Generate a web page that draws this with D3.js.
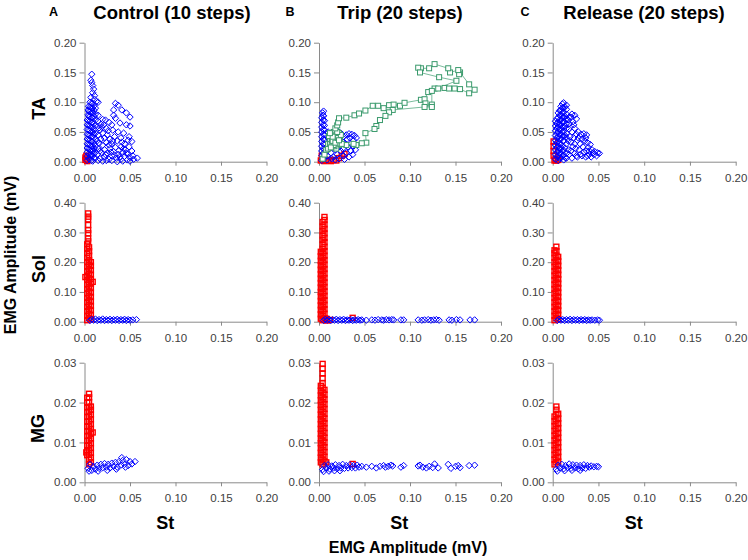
<!DOCTYPE html>
<html><head><meta charset="utf-8">
<script src="https://cdn.jsdelivr.net/npm/d3@7"></script>
<style>body{margin:0;background:#fff}svg{display:block}text{font-family:"Liberation Sans",Arial,sans-serif}</style>
</head><body><svg id="c" width="748" height="560"></svg>
<script>
// ---------- DATA ----------
const columnTitles = ["Control (10 steps)", "Trip (20 steps)", "Release (20 steps)"];
const columnLetters = ["A", "B", "C"];
const rowLabels = ["TA", "Sol", "MG"];
const xTicks = [0, 0.05, 0.10, 0.15, 0.20];
const yTicksTA = [0, 0.05, 0.10, 0.15, 0.20];
const yTicksSol = [0, 0.10, 0.20, 0.30, 0.40];
const yTicksMG = [0, 0.01, 0.02, 0.03];

// Control TA
const ctrlTA_blue = [[0.003,0.002],[0.003,0.009],[0.003,0.016],[0.003,0.023],[0.003,0.030],[0.003,0.038],[0.003,0.046],[0.003,0.054],[0.003,0.062],[0.003,0.070],[0.004,0.079],[0.004,0.087],
[0.0045,0.005],[0.0045,0.013],[0.0045,0.021],[0.0045,0.029],[0.0045,0.037],[0.0045,0.045],[0.0045,0.053],[0.0045,0.061],[0.0045,0.069],[0.0045,0.077],[0.0045,0.085],[0.0045,0.093],
[0.006,0.004],[0.006,0.012],[0.006,0.020],[0.006,0.028],[0.006,0.036],[0.006,0.044],[0.006,0.052],[0.006,0.060],[0.006,0.068],[0.006,0.076],[0.006,0.084],[0.006,0.092],[0.006,0.100],
[0.0075,0.002],[0.0075,0.010],[0.0075,0.018],[0.0075,0.026],[0.0075,0.034],[0.0075,0.042],[0.0075,0.050],[0.0075,0.058],[0.0075,0.066],[0.0075,0.074],[0.0075,0.082],[0.0075,0.090],[0.0075,0.098],
[0.009,0.001],[0.009,0.010],[0.009,0.018],[0.009,0.026],[0.009,0.034],[0.009,0.042],[0.009,0.050],[0.009,0.058],[0.009,0.066],[0.009,0.074],[0.009,0.082],[0.009,0.090],[0.009,0.098],
[0.0105,0.006],[0.0105,0.014],[0.0105,0.022],[0.0105,0.030],[0.0105,0.046],[0.0105,0.054],[0.0105,0.064],[0.0105,0.076],[0.0105,0.086],[0.0105,0.094],
[0.012,0.006],[0.012,0.016],[0.012,0.026],[0.012,0.038],[0.012,0.048],[0.012,0.060],[0.012,0.070],[0.012,0.080],[0.012,0.090],[0.013,0.101],
[0.008,0.147],[0.007,0.137],[0.008,0.133],[0.009,0.128],[0.010,0.122],[0.009,0.116],[0.011,0.111],[0.011,0.105],[0.007,0.108],[0.015,0.100],
[0.015,0.068],[0.018,0.063],[0.016,0.057],[0.020,0.071],[0.015,0.078],[0.019,0.058],[0.021,0.062],
[0.023,0.070],[0.027,0.066],[0.030,0.062],[0.034,0.098],[0.037,0.095],[0.032,0.087],[0.041,0.087],[0.046,0.082],[0.032,0.078],[0.034,0.073],[0.039,0.065],[0.050,0.075],[0.046,0.062],[0.050,0.060],[0.024,0.056],[0.017,0.053],[0.031,0.053],[0.037,0.050],[0.043,0.048],[0.049,0.042],[0.048,0.036],[0.052,0.034],
[0.015,0.045],[0.018,0.038],[0.020,0.048],[0.022,0.040],[0.025,0.045],[0.028,0.038],[0.024,0.032],[0.020,0.028],[0.016,0.031],[0.030,0.030],[0.033,0.042],[0.036,0.035],[0.040,0.040],[0.044,0.030],[0.040,0.025],[0.034,0.024],[0.028,0.022],[0.022,0.020],[0.015,0.022],[0.026,0.052],
[0.014,0.035],[0.017,0.018],[0.023,0.012],[0.029,0.016],[0.033,0.011],[0.039,0.008],[0.046,0.014],[0.041,0.033],[0.027,0.028],[0.031,0.035],[0.043,0.022],[0.049,0.025],[0.053,0.010],
[0.014,0.012],[0.017,0.005],[0.019,0.015],[0.022,0.008],[0.025,0.014],[0.027,0.004],[0.030,0.010],[0.032,0.017],[0.035,0.006],[0.037,0.012],[0.040,0.004],[0.042,0.016],[0.044,0.009],[0.047,0.003],[0.048,0.013],[0.050,0.007],[0.052,0.018],[0.054,0.004],[0.058,0.006],[0.045,0.020],[0.038,0.019],[0.024,0.002],[0.015,0.002],[0.030,0.002],[0.036,0.000],[0.042,0.001],[0.050,0.001],[0.020,0.001]];
const ctrlTA_red = [[0.001,0.003],[0.001,0.007],[0.002,0.010],[0.002,0.004],[0.003,0.001]];

// Trip TA
const tripTA_blue = [[0.003,0.002],[0.003,0.010],[0.003,0.018],[0.003,0.026],[0.003,0.034],[0.003,0.042],[0.003,0.050],[0.003,0.058],[0.003,0.066],[0.003,0.074],[0.004,0.082],
[0.0045,0.006],[0.0045,0.014],[0.0045,0.022],[0.0045,0.030],[0.0045,0.038],[0.0045,0.046],[0.0045,0.054],[0.0045,0.062],[0.0045,0.070],[0.0045,0.078],
[0.006,0.005],[0.006,0.013],[0.006,0.021],[0.006,0.029],[0.006,0.037],[0.006,0.045],[0.006,0.053],[0.006,0.061],[0.006,0.069],[0.005,0.077],[0.005,0.085],
[0.009,0.010],[0.009,0.025],[0.010,0.040],[0.010,0.050],[0.013,0.045],[0.016,0.050],[0.020,0.052],[0.024,0.048],[0.027,0.042],[0.030,0.045],[0.033,0.047],[0.036,0.046],[0.039,0.044],[0.041,0.040],[0.038,0.036],[0.035,0.030],[0.032,0.025],[0.035,0.018],[0.030,0.015],[0.027,0.010],[0.024,0.018],[0.020,0.012],[0.016,0.008],[0.013,0.015],[0.010,0.020],[0.012,0.030],[0.018,0.003],[0.022,0.005],[0.028,0.004],[0.033,0.008],[0.037,0.012],[0.040,0.020],[0.028,0.030],[0.025,0.035],[0.014,0.005],[0.009,0.003],[0.031,0.038],[0.022,0.025],[0.018,0.020],[0.026,0.022],[0.034,0.040],[0.038,0.026]];
const tripTA_red = [[0.002,0.002],[0.004,0.004],[0.006,0.001],[0.008,0.003],[0.010,0.002],[0.013,0.001],[0.016,0.003],[0.019,0.002],[0.022,0.006],[0.025,0.010],[0.028,0.013],[0.003,0.010]];
const tripTA_green = [[0.004,0.005],[0.006,0.012],[0.008,0.020],[0.010,0.022],[0.010,0.030],[0.012,0.030],[0.012,0.038],[0.014,0.028],[0.014,0.045],[0.017,0.036],[0.016,0.050],[0.019,0.045],[0.018,0.042],[0.022,0.048],[0.020,0.035],[0.023,0.040],[0.022,0.028],[0.020,0.030],[0.019,0.022],[0.017,0.026],[0.016,0.028],[0.013,0.024],[0.014,0.040],[0.015,0.035],[0.011,0.043],[0.018,0.032],[0.021,0.040],[0.024,0.045],[0.020,0.050],[0.018,0.056],[0.020,0.061],[0.021,0.066],[0.022,0.073],
[0.030,0.074],[0.039,0.078],[0.044,0.081],[0.051,0.086],[0.059,0.094],[0.065,0.094],[0.071,0.090],[0.077,0.095],[0.082,0.096],[0.089,0.094],[0.094,0.099],[0.112,0.104],[0.116,0.105],[0.120,0.117],
[0.127,0.123],[0.131,0.123],[0.138,0.124],[0.143,0.123],[0.149,0.123],[0.155,0.122],[0.165,0.115],[0.171,0.121],[0.165,0.130],[0.155,0.150],[0.154,0.147],[0.153,0.154],[0.144,0.150],[0.142,0.157],[0.127,0.164],[0.121,0.157],[0.112,0.157],[0.109,0.158],[0.111,0.150],[0.132,0.142],[0.151,0.136],[0.124,0.119],[0.124,0.096],[0.117,0.098],[0.124,0.092],[0.116,0.092],
[0.081,0.087],[0.077,0.083],[0.073,0.077],[0.067,0.070],[0.063,0.060],[0.061,0.055],[0.051,0.048],[0.052,0.032],[0.047,0.031],[0.041,0.028],[0.038,0.030],[0.030,0.028],[0.025,0.030],[0.022,0.036],[0.015,0.042],[0.012,0.048]];

// Release TA
const relTA_blue = [[0.003,0.004],[0.003,0.012],[0.003,0.020],[0.003,0.028],[0.003,0.036],[0.003,0.044],[0.003,0.052],[0.003,0.060],[0.003,0.068],
[0.0045,0.008],[0.0045,0.016],[0.0045,0.024],[0.0045,0.032],[0.0045,0.040],[0.0045,0.048],[0.0045,0.056],[0.0045,0.064],[0.0045,0.072],
[0.006,0.002],[0.006,0.010],[0.006,0.018],[0.006,0.026],[0.006,0.034],[0.006,0.042],[0.006,0.050],[0.006,0.058],[0.006,0.066],[0.006,0.074],[0.006,0.082],
[0.0075,0.006],[0.0075,0.014],[0.0075,0.022],[0.0075,0.030],[0.0075,0.038],[0.0075,0.046],[0.0075,0.054],[0.0075,0.062],[0.0075,0.070],[0.0075,0.078],[0.0075,0.086],
[0.009,0.006],[0.009,0.014],[0.009,0.022],[0.009,0.030],[0.009,0.038],[0.009,0.046],[0.009,0.054],[0.009,0.062],[0.009,0.070],[0.009,0.078],[0.009,0.086],[0.009,0.093],
[0.0105,0.010],[0.0105,0.018],[0.0105,0.026],[0.0105,0.042],[0.0105,0.050],[0.0105,0.058],[0.0105,0.066],[0.0105,0.074],[0.0105,0.082],[0.0105,0.090],[0.0105,0.097],
[0.012,0.003],[0.012,0.011],[0.012,0.019],[0.012,0.035],[0.012,0.043],[0.012,0.051],[0.012,0.059],[0.012,0.067],[0.012,0.075],[0.012,0.083],[0.012,0.091],[0.012,0.099],
[0.0135,0.007],[0.0135,0.023],[0.0135,0.044],[0.0135,0.060],[0.0135,0.076],[0.0135,0.092],
[0.015,0.006],[0.015,0.014],[0.015,0.030],[0.015,0.040],[0.015,0.048],[0.015,0.056],[0.015,0.064],[0.015,0.072],[0.015,0.080],[0.015,0.088],[0.015,0.095],
[0.018,0.075],[0.021,0.080],[0.024,0.078],[0.026,0.072],[0.022,0.067],[0.018,0.064],[0.020,0.075],[0.023,0.062],[0.017,0.070],
[0.018,0.055],[0.021,0.050],[0.024,0.056],[0.019,0.042],[0.023,0.040],[0.026,0.046],[0.020,0.033],[0.024,0.030],[0.027,0.036],[0.018,0.012],[0.021,0.006],[0.024,0.014],
[0.017,0.020],[0.017,0.035],[0.020,0.018],[0.022,0.025],[0.025,0.022],[0.026,0.010],[0.028,0.040],[0.032,0.010],[0.035,0.035],[0.038,0.010],[0.040,0.018],[0.044,0.015],
[0.028,0.050],[0.031,0.046],[0.034,0.047],[0.037,0.045],[0.036,0.040],[0.032,0.038],[0.030,0.030],[0.033,0.025],[0.029,0.020],[0.027,0.008],[0.030,0.012],[0.034,0.016],[0.036,0.008],
[0.038,0.032],[0.041,0.029],[0.039,0.024],[0.037,0.018],[0.040,0.012],
[0.043,0.020],[0.046,0.017],[0.049,0.015],[0.051,0.014],[0.045,0.012],[0.042,0.008],[0.048,0.010]];
const relTA_red = [[0.002,0.002],[0.004,0.002],[0.006,0.003],[0.003,0.005],[0.001,0.010],[0.001,0.018],[0.001,0.026],[0.001,0.034]];

// Sol
const ctrlSol_red = [[0.003,0.005],[0.003,0.020],[0.003,0.035],[0.003,0.050],[0.003,0.065],[0.003,0.080],[0.003,0.095],[0.003,0.110],[0.003,0.125],[0.003,0.140],[0.003,0.155],[0.003,0.170],[0.003,0.185],[0.003,0.200],[0.003,0.215],[0.003,0.230],[0.003,0.245],[0.003,0.260],
[0.005,0.012],[0.005,0.027],[0.005,0.042],[0.005,0.057],[0.005,0.072],[0.005,0.087],[0.005,0.102],[0.005,0.117],[0.005,0.132],[0.005,0.147],[0.005,0.162],[0.005,0.177],[0.005,0.192],[0.005,0.207],[0.005,0.222],[0.005,0.237],[0.005,0.250],
[0.007,0.008],[0.007,0.023],[0.007,0.038],[0.007,0.053],[0.007,0.068],[0.007,0.083],[0.007,0.098],[0.007,0.113],[0.007,0.128],[0.007,0.143],[0.007,0.158],[0.007,0.173],[0.007,0.188],[0.007,0.200],
[0.001,0.150],[0.009,0.134],[0.004,0.364],[0.004,0.353],[0.004,0.344],[0.004,0.325],[0.004,0.308],[0.004,0.297],[0.004,0.280],[0.004,0.270]];
const ctrlSol_blue = [[0.006,0.004],[0.008,0.008],[0.010,0.005],[0.012,0.009],[0.014,0.004],[0.016,0.007],[0.018,0.005],[0.020,0.009],[0.022,0.004],[0.024,0.007],[0.026,0.005],[0.028,0.008],[0.030,0.004],[0.032,0.007],[0.034,0.005],[0.036,0.008],[0.038,0.004],[0.040,0.007],[0.042,0.005],[0.044,0.008],[0.046,0.004],[0.048,0.007],[0.050,0.005],[0.053,0.006],[0.057,0.007]];

const tripSol_red = [[0.002,0.010],[0.002,0.025],[0.002,0.040],[0.002,0.055],[0.002,0.070],[0.002,0.085],[0.002,0.100],[0.002,0.115],[0.002,0.130],[0.002,0.145],[0.002,0.160],[0.002,0.175],[0.002,0.190],[0.002,0.205],[0.002,0.220],[0.002,0.235],
[0.004,0.005],[0.004,0.020],[0.004,0.035],[0.004,0.050],[0.004,0.065],[0.004,0.080],[0.004,0.095],[0.004,0.110],[0.004,0.125],[0.004,0.140],[0.004,0.155],[0.004,0.170],[0.004,0.185],[0.004,0.200],[0.004,0.215],[0.004,0.230],[0.004,0.245],[0.004,0.260],[0.004,0.275],[0.004,0.290],[0.004,0.305],[0.004,0.320],[0.004,0.335],
[0.006,0.012],[0.006,0.027],[0.006,0.042],[0.006,0.057],[0.006,0.072],[0.006,0.087],[0.006,0.102],[0.006,0.117],[0.006,0.132],[0.006,0.147],[0.006,0.162],[0.006,0.177],[0.006,0.192],[0.006,0.207],[0.006,0.222],[0.006,0.237],[0.006,0.252],[0.006,0.267],[0.006,0.282],[0.006,0.297],[0.006,0.312],[0.006,0.327],[0.006,0.342],[0.006,0.352],
[0.009,0.004],[0.012,0.006],[0.037,0.013],[0.008,0.010]];
const tripSol_blue = [[0.005,0.004],[0.007,0.008],[0.009,0.005],[0.011,0.008],[0.013,0.004],[0.015,0.007],[0.017,0.005],[0.019,0.008],[0.021,0.004],[0.023,0.007],[0.025,0.005],[0.027,0.008],[0.029,0.004],[0.031,0.006],[0.033,0.005],[0.035,0.007],[0.037,0.004],[0.039,0.006],[0.041,0.005],[0.043,0.007],[0.045,0.005],
[0.047,0.006],[0.052,0.005],[0.058,0.006],[0.0615,0.005],[0.065,0.007],[0.069,0.006],[0.071,0.005],[0.074,0.007],[0.077,0.006],[0.080,0.007],[0.082,0.006],[0.090,0.006],[0.093,0.006],[0.109,0.006],[0.113,0.005],[0.116,0.006],[0.120,0.007],[0.123,0.005],[0.126,0.006],[0.129,0.007],[0.132,0.005],[0.143,0.006],[0.146,0.005],[0.151,0.007],[0.155,0.006],[0.166,0.006],[0.171,0.006]];

const relSol_red = [[0.002,0.005],[0.002,0.020],[0.002,0.035],[0.002,0.050],[0.002,0.065],[0.002,0.080],[0.002,0.095],[0.002,0.110],[0.002,0.125],[0.002,0.140],[0.002,0.155],[0.002,0.170],[0.002,0.185],[0.002,0.200],[0.002,0.215],[0.002,0.230],[0.002,0.240],
[0.004,0.012],[0.004,0.027],[0.004,0.042],[0.004,0.057],[0.004,0.072],[0.004,0.087],[0.004,0.102],[0.004,0.117],[0.004,0.132],[0.004,0.147],[0.004,0.162],[0.004,0.177],[0.004,0.192],[0.004,0.207],[0.004,0.222],[0.004,0.237],[0.004,0.252],
[0.006,0.008],[0.006,0.023],[0.006,0.038],[0.006,0.053],[0.006,0.068],[0.006,0.083],[0.006,0.098],[0.006,0.113],[0.006,0.128],[0.006,0.143],[0.006,0.158],[0.006,0.173],[0.006,0.188],[0.006,0.203],[0.006,0.218]];
const relSol_blue = [[0.005,0.004],[0.007,0.008],[0.009,0.005],[0.011,0.007],[0.013,0.004],[0.015,0.007],[0.017,0.005],[0.019,0.008],[0.021,0.004],[0.023,0.007],[0.025,0.005],[0.027,0.007],[0.029,0.004],[0.031,0.007],[0.033,0.005],[0.035,0.007],[0.037,0.004],[0.039,0.006],[0.041,0.005],[0.043,0.006],[0.046,0.005],[0.049,0.006],[0.051,0.005]];

// MG
const ctrlMG_red = [[0.003,0.0068],[0.003,0.0080],[0.003,0.0092],[0.003,0.0104],[0.003,0.0116],[0.003,0.0128],[0.003,0.0140],[0.003,0.0152],[0.003,0.0164],[0.003,0.0176],[0.003,0.0188],[0.003,0.0200],[0.003,0.0212],
[0.005,0.0045],[0.005,0.0057],[0.005,0.0069],[0.005,0.0081],[0.005,0.0093],[0.005,0.0105],[0.005,0.0117],[0.005,0.0129],[0.005,0.0141],[0.005,0.0153],[0.005,0.0165],[0.005,0.0177],[0.005,0.0189],[0.005,0.0201],[0.005,0.0213],[0.005,0.0222],
[0.007,0.0050],[0.007,0.0062],[0.007,0.0074],[0.007,0.0086],[0.007,0.0098],[0.007,0.0110],[0.007,0.0122],[0.007,0.0134],[0.007,0.0146],[0.007,0.0158],[0.007,0.0170],[0.007,0.0182],[0.007,0.0190],
[0.009,0.0125],[0.002,0.0075]];
const ctrlMG_blue = [[0.004,0.0035],[0.006,0.0045],[0.008,0.0030],[0.010,0.0040],[0.012,0.0033],[0.014,0.0043],[0.016,0.0035],[0.018,0.0045],[0.020,0.0037],[0.022,0.0047],[0.024,0.0038],[0.026,0.0045],[0.028,0.0036],[0.030,0.0048],[0.032,0.0040],[0.034,0.0050],[0.036,0.0038],[0.038,0.0052],[0.040,0.0043],[0.041,0.0062],[0.042,0.0055],[0.044,0.0045],[0.046,0.0057],[0.048,0.0042],[0.050,0.0052],[0.052,0.0046],[0.0555,0.0052],[0.005,0.0028],[0.015,0.0028],[0.025,0.0030],[0.035,0.0033],[0.045,0.0038]];

const tripMG_red = [[0.002,0.0050],[0.002,0.0062],[0.002,0.0074],[0.002,0.0086],[0.002,0.0098],[0.002,0.0110],[0.002,0.0122],[0.002,0.0134],[0.002,0.0146],[0.002,0.0158],[0.002,0.0170],[0.002,0.0182],[0.002,0.0194],[0.002,0.0206],[0.002,0.0218],[0.002,0.0230],[0.002,0.0242],
[0.004,0.0045],[0.004,0.0057],[0.004,0.0069],[0.004,0.0081],[0.004,0.0093],[0.004,0.0105],[0.004,0.0117],[0.004,0.0129],[0.004,0.0141],[0.004,0.0153],[0.004,0.0165],[0.004,0.0177],[0.004,0.0189],[0.004,0.0201],[0.004,0.0213],[0.004,0.0225],[0.004,0.0237],[0.004,0.0249],[0.004,0.0261],[0.004,0.0273],[0.004,0.0285],[0.004,0.0297],
[0.006,0.0052],[0.006,0.0064],[0.006,0.0076],[0.006,0.0088],[0.006,0.0100],[0.006,0.0112],[0.006,0.0124],[0.006,0.0136],[0.006,0.0148],[0.006,0.0160],[0.006,0.0172],[0.006,0.0184],[0.006,0.0196],[0.006,0.0208],[0.006,0.0220],[0.006,0.0232],
[0.037,0.0046],[0.008,0.0050]];
const tripMG_blue = [[0.004,0.0032],[0.006,0.0042],[0.008,0.0035],[0.010,0.0044],[0.012,0.0033],[0.014,0.0041],[0.016,0.0036],[0.018,0.0044],[0.020,0.0034],[0.022,0.0042],[0.024,0.0036],[0.026,0.0045],[0.028,0.0035],[0.030,0.0042],[0.032,0.0036],[0.034,0.0044],[0.036,0.0037],[0.038,0.0042],[0.040,0.0036],[0.042,0.0043],[0.044,0.0038],[0.005,0.0027],[0.011,0.0028],[0.017,0.0029],[0.023,0.0029],
[0.047,0.0040],[0.052,0.0038],[0.058,0.0040],[0.063,0.0036],[0.067,0.0040],[0.071,0.0042],[0.073,0.0038],[0.076,0.0040],[0.079,0.0043],[0.081,0.0041],[0.090,0.0038],[0.093,0.0042],[0.109,0.0041],[0.111,0.0043],[0.114,0.0038],[0.118,0.0036],[0.121,0.0040],[0.125,0.0037],[0.127,0.0046],[0.131,0.0036],[0.142,0.0045],[0.145,0.0035],[0.150,0.0040],[0.153,0.0042],[0.155,0.0037],[0.165,0.0042],[0.171,0.0043]];

const relMG_red = [[0.002,0.0045],[0.002,0.0057],[0.002,0.0069],[0.002,0.0081],[0.002,0.0093],[0.002,0.0105],[0.002,0.0117],[0.002,0.0129],[0.002,0.0141],[0.002,0.0153],[0.002,0.0165],
[0.004,0.0050],[0.004,0.0062],[0.004,0.0074],[0.004,0.0086],[0.004,0.0098],[0.004,0.0110],[0.004,0.0122],[0.004,0.0134],[0.004,0.0146],[0.004,0.0158],[0.004,0.0170],[0.004,0.0182],[0.004,0.0190],
[0.006,0.0052],[0.006,0.0064],[0.006,0.0076],[0.006,0.0088],[0.006,0.0100],[0.006,0.0112],[0.006,0.0124],[0.006,0.0136],[0.006,0.0148],[0.006,0.0160],[0.006,0.0172]];
const relMG_blue = [[0.004,0.0033],[0.006,0.0043],[0.008,0.0036],[0.010,0.0045],[0.012,0.0034],[0.014,0.0042],[0.016,0.0037],[0.018,0.0046],[0.020,0.0035],[0.022,0.0044],[0.024,0.0036],[0.026,0.0043],[0.028,0.0034],[0.030,0.0042],[0.032,0.0036],[0.034,0.0044],[0.036,0.0035],[0.038,0.0042],[0.040,0.0038],[0.042,0.0041],[0.045,0.0039],[0.048,0.0040],[0.050,0.0039],[0.005,0.0028],[0.013,0.0029],[0.021,0.0030],[0.030,0.0030]];

// ---------- LAYOUT ----------
const svg = d3.select("#c");
const colsL = [{l:84.5,w:182},{l:319,w:182},{l:552.7,w:183}];
const rowsL = [{t:42.7,h:119,max:0.20,ticks:yTicksTA},{t:202.7,h:119,max:0.40,ticks:yTicksSol},{t:362.7,h:119.6,max:0.03,ticks:yTicksMG}];
const panels = [
  [{blue:ctrlTA_blue,red:ctrlTA_red},{blue:tripTA_blue,red:tripTA_red,green:tripTA_green},{blue:relTA_blue,red:relTA_red}],
  [{blue:ctrlSol_blue,red:ctrlSol_red},{blue:tripSol_blue,red:tripSol_red},{blue:relSol_blue,red:relSol_red}],
  [{blue:ctrlMG_blue,red:ctrlMG_red},{blue:tripMG_blue,red:tripMG_red},{blue:relMG_blue,red:relMG_red}]
];
const fmt = d3.format(".2f");
const axisCol = "#8a8a8a", labCol = "#404040";
const BLUE = "#0000ff", RED = "#ff0000", GREEN = "#3a9a6c";

rowsL.forEach((R, ri) => {
  colsL.forEach((C, ci) => {
    const P = panels[ri][ci];
    const x = d3.scaleLinear().domain([0, 0.20]).range([C.l, C.l + C.w]);
    const y = d3.scaleLinear().domain([0, R.max]).range([R.t + R.h, R.t]);
    const g = svg.append("g");
    const ga = g.append("g").attr("transform", `translate(0,${R.t + R.h})`)
      .call(d3.axisBottom(x).tickValues(xTicks).tickFormat(fmt).tickSize(4).tickPadding(8).tickSizeOuter(0));
    const gy = g.append("g").attr("transform", `translate(${C.l},0)`)
      .call(d3.axisLeft(y).tickValues(R.ticks).tickFormat(fmt).tickSize(5).tickPadding(3).tickSizeOuter(0));
    [ga, gy].forEach(a => {
      a.selectAll("path,line").attr("stroke", axisCol).attr("stroke-width", 1);
      a.selectAll("text").attr("fill", labCol).style("font-size", "11.5px").style("font-family", '"Liberation Sans",Arial,sans-serif');
    });
    // red squares
    g.append("g").selectAll("rect").data(P.red).join("rect")
      .attr("x", d => x(d[0]) - 2.5).attr("y", d => y(d[1]) - 2.5)
      .attr("width", 5).attr("height", 5).attr("fill", "none").attr("stroke", RED).attr("stroke-width", 1.4);
    // blue diamonds
    g.append("g").selectAll("path").data(P.blue).join("path")
      .attr("d", d => { const cx = x(d[0]), cy = y(d[1]), r = 3.2; return `M${cx},${cy - r}L${cx + r},${cy}L${cx},${cy + r}L${cx - r},${cy}Z`; })
      .attr("fill", "none").attr("stroke", BLUE).attr("stroke-width", 1);
    if (P.green) {
      g.append("path").datum(P.green)
        .attr("d", d3.line().x(d => x(d[0])).y(d => y(d[1])))
        .attr("fill", "none").attr("stroke", GREEN).attr("stroke-width", 0.8).attr("opacity", 0.85);
      g.append("g").selectAll("rect").data(P.green).join("rect")
        .attr("x", d => x(d[0]) - 2.5).attr("y", d => y(d[1]) - 2.5)
        .attr("width", 5).attr("height", 5).attr("fill", "#fff").attr("stroke", GREEN).attr("stroke-width", 1);
    }
  });
});

// ---------- TEXT ----------
const titleX = [172, 400, 644];
const letterX = [53.5, 290, 525];
columnTitles.forEach((t, i) => {
  svg.append("text").attr("x", titleX[i]).attr("y", 18.5).attr("text-anchor", "middle")
    .style("font-size", "18.5px").style("font-weight", "bold").attr("fill", "#000").text(t);
  svg.append("text").attr("x", letterX[i]).attr("y", 16).attr("text-anchor", "middle")
    .style("font-size", "12.5px").style("font-weight", "bold").attr("fill", "#000").text(columnLetters[i]);
});
const rowLabelY = [108.5, 269, 428.5];
const rowLabelX = [45, 44.5, 43.5];
rowLabels.forEach((t, i) => {
  svg.append("text").attr("transform", `translate(${rowLabelX[i]},${rowLabelY[i]}) rotate(-90)`)
    .attr("text-anchor", "middle").style("font-size", "18px").style("font-weight", "bold").attr("fill", "#000").text(t);
});
svg.append("text").attr("transform", "translate(15.5,255) rotate(-90)").attr("text-anchor", "middle")
  .style("font-size", "16px").style("font-weight", "bold").attr("fill", "#000").text("EMG Amplitude (mV)");
const stX = [165.3, 399.3, 633.7];
stX.forEach(sx => {
  svg.append("text").attr("x", sx).attr("y", 529.3).attr("text-anchor", "middle")
    .style("font-size", "18px").style("font-weight", "bold").attr("fill", "#000").text("St");
});
svg.append("text").attr("x", 408).attr("y", 553.3).attr("text-anchor", "middle")
  .style("font-size", "16px").style("font-weight", "bold").attr("fill", "#000").text("EMG Amplitude (mV)");
</script></body></html>
